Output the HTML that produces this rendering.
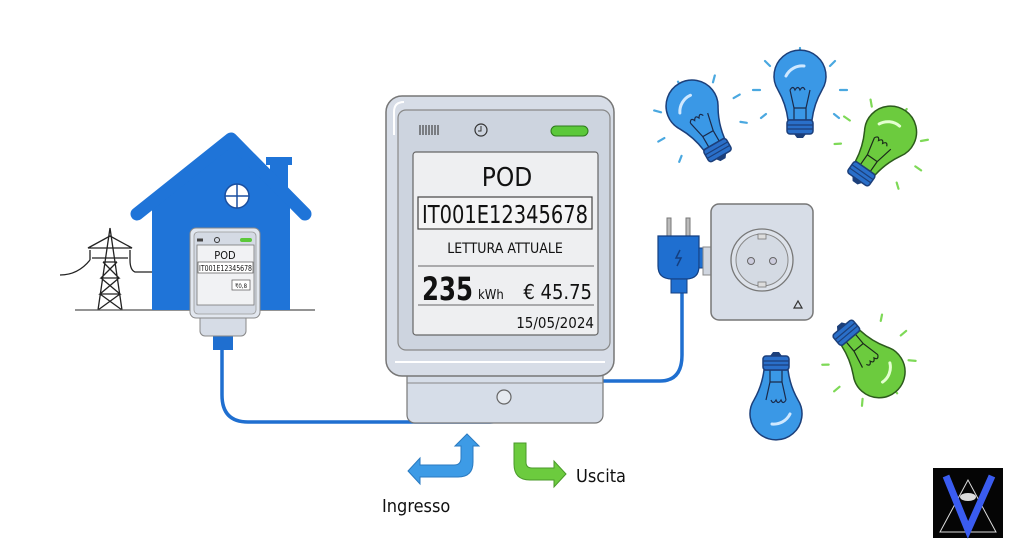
<!DOCTYPE html>
<html><head><meta charset="utf-8"><style>
html,body{margin:0;padding:0;background:#fff;}
svg{display:block;}
text{font-family:"DejaVu Sans Condensed","Liberation Sans",sans-serif;fill:#111;}
</style></head><body>
<svg width="1024" height="559" viewBox="0 0 1024 559" xmlns="http://www.w3.org/2000/svg">
<defs>
<g id="bulbB">
  <path d="M-22,-8 A26,26 0 1 1 22,-8 Q14,6 12,22 L-12,22 Q-14,6 -22,-8 Z" fill="#3a98e6" stroke="#1c3f7a" stroke-width="1.5"/>
  <path d="M-14,-22 A18,18 0 0 1 4,-32" fill="none" stroke="#cfe8ff" stroke-width="3" stroke-linecap="round"/>
  <path d="M-10,-8 q3,-5 5,0 q3,-5 5,0 q3,-5 5,0 M-10,-8 L-6,10 L6,10 L10,-8 M-6,10 L-6,22 M6,10 L6,22" fill="none" stroke="#1a2a4a" stroke-width="1.2"/>
  <rect x="-13" y="22" width="26" height="14" rx="3" fill="#2a6fc9" stroke="#1c3f7a" stroke-width="1.5"/>
  <path d="M-13,27 H13 M-13,31 H13" stroke="#1c3f7a" stroke-width="1.2"/>
  <path d="M-6,36 H6 L3,40 H-3 Z" fill="#1c3f7a"/>
</g>
<g id="bulbG">
  <path d="M-22,-8 A26,26 0 1 1 22,-8 Q14,6 12,22 L-12,22 Q-14,6 -22,-8 Z" fill="#6ccb3e" stroke="#2c5a1c" stroke-width="1.5"/>
  <path d="M-14,-22 A18,18 0 0 1 4,-32" fill="none" stroke="#e4ffd0" stroke-width="3" stroke-linecap="round"/>
  <path d="M-10,-8 q3,-5 5,0 q3,-5 5,0 q3,-5 5,0 M-10,-8 L-6,10 L6,10 L10,-8 M-6,10 L-6,22 M6,10 L6,22" fill="none" stroke="#1a2a1a" stroke-width="1.2"/>
  <rect x="-13" y="22" width="26" height="14" rx="3" fill="#2a6fc9" stroke="#1c3f7a" stroke-width="1.5"/>
  <path d="M-13,27 H13 M-13,31 H13" stroke="#1c3f7a" stroke-width="1.2"/>
  <path d="M-6,36 H6 L3,40 H-3 Z" fill="#1c3f7a"/>
</g>
<g id="raysB" stroke="#4aa8e0" stroke-width="2.2" stroke-linecap="round">
  <path d="M0,-44 V-50 M30,-32 L35,-37 M-30,-32 L-35,-37 M40,-8 H47 M-40,-8 H-47 M34,16 L39,20 M-34,16 L-39,20"/>
</g>
<g id="raysG" stroke="#7ed957" stroke-width="2.2" stroke-linecap="round">
  <path d="M0,-44 V-50 M30,-32 L35,-37 M-30,-32 L-35,-37 M40,-8 H47 M-40,-8 H-47 M34,16 L39,20 M-34,16 L-39,20"/>
</g>
</defs>

<!-- power tower -->
<g stroke="#222" stroke-width="1.3" fill="none">
  <path d="M110,228 L98,310 M110,228 L122,310 M103,262 L117,262 M101,278 L119,278 M100,294 L120,294 M103,262 L119,278 L101,278 L117,262 M101,278 L120,294 L100,294 L119,278 M100,294 L122,310 M120,294 L98,310"/>
  <path d="M88,248 L132,248 L110,236 Z M92,258 L128,258"/>
  <path d="M90,250 v10 M130,250 v10"/>
  <path d="M60,275 q18,0 30,-15 M130,260 q0,10 5,12 L152,272"/>
</g>
<line x1="75" y1="310" x2="315" y2="310" stroke="#555" stroke-width="1.2"/>

<!-- house -->
<rect x="266" y="157" width="26" height="8" fill="#1f74d8"/>
<rect x="270" y="162" width="18" height="30" fill="#1f74d8"/>
<path d="M152,205 L231,142 L290,190 V310 H152 Z" fill="#1f74d8"/>
<path d="M137,214 L231,139 L305,214" fill="none" stroke="#1f74d8" stroke-width="13" stroke-linecap="round" stroke-linejoin="round"/>
<circle cx="237" cy="196" r="12" fill="#fff" stroke="#1a4fa0" stroke-width="1.5"/>
<path d="M225,196 H249 M237,184 V208" stroke="#1a4fa0" stroke-width="1.5"/>

<!-- cable house to main -->
<path d="M222,345 V395 Q222,422 248,422 H490 Q504,422 504,405" fill="none" stroke="#1f6fd0" stroke-width="3.5"/>
<rect x="213" y="334" width="20" height="16" fill="#1f6fd0"/>

<!-- small meter -->
<rect x="200" y="312" width="46" height="24" rx="5" fill="#d6dce6" stroke="#888" stroke-width="1"/>
<rect x="190" y="228" width="70" height="90" rx="6" fill="#e2e7ef" stroke="#888" stroke-width="1"/>
<rect x="194" y="232" width="62" height="82" rx="4" fill="#d4dae4" stroke="#999" stroke-width="0.8"/>
<path d="M197,240 h6" stroke="#444" stroke-width="3"/>
<circle cx="217" cy="240" r="2.5" fill="none" stroke="#333" stroke-width="1"/>
<rect x="240" y="238" width="12" height="4" rx="2" fill="#5bc83a"/>
<rect x="197" y="245" width="57" height="60" fill="#f1f2f4" stroke="#777" stroke-width="0.8"/>
<text x="225" y="259" font-size="11" text-anchor="middle">POD</text>
<rect x="198" y="262" width="55" height="11" fill="#fff" stroke="#555" stroke-width="0.7"/>
<text x="225.5" y="271" font-size="8" text-anchor="middle" textLength="53" lengthAdjust="spacingAndGlyphs">IT001E12345678</text>
<rect x="232" y="280" width="18" height="10" fill="#fff" stroke="#555" stroke-width="0.7"/>
<text x="241" y="288" font-size="6" text-anchor="middle">₹0,8</text>

<!-- cable main to plug -->
<path d="M600,381 H660 Q682,381 682,355 V290" fill="none" stroke="#1f6fd0" stroke-width="3.5"/>

<!-- main meter -->
<rect x="407" y="365" width="196" height="58" rx="8" fill="#d6dde8" stroke="#777" stroke-width="1.2"/>
<line x1="407" y1="383" x2="603" y2="383" stroke="#888" stroke-width="1"/>
<rect x="386" y="96" width="228" height="280" rx="16" fill="#d7dde7" stroke="#777" stroke-width="1.5"/>
<rect x="398" y="110" width="212" height="240" rx="8" fill="#cdd4df" stroke="#888" stroke-width="1.2"/>
<path d="M394,135 V112 Q394,102 404,102" stroke="#fff" stroke-width="2" fill="none"/>
<line x1="395" y1="362" x2="605" y2="362" stroke="#fff" stroke-width="2"/>
<circle cx="504" cy="397" r="7" fill="#e6eaf0" stroke="#666" stroke-width="1.2"/>
<path d="M420,125 v10 M423,125 v10 M426,125 v10 M429,125 v10 M432,125 v10 M435,125 v10 M438,125 v10" stroke="#444" stroke-width="1.2"/>
<circle cx="481" cy="130" r="6" fill="none" stroke="#333" stroke-width="1.2"/>
<path d="M481,126 V131 H478" stroke="#333" stroke-width="1" fill="none"/>
<rect x="551" y="126" width="37" height="10" rx="5" fill="#5bc83a" stroke="#2d7a1c" stroke-width="1"/>
<rect x="413" y="152" width="185" height="183" rx="3" fill="#eeeff1" stroke="#666" stroke-width="1.2"/>
<text x="507" y="186" font-size="26" text-anchor="middle">POD</text>
<rect x="418" y="197" width="174" height="32" fill="#f4f4f5" stroke="#444" stroke-width="1.2"/>
<text x="505" y="223" font-size="25" text-anchor="middle" textLength="166" lengthAdjust="spacingAndGlyphs">IT001E12345678</text>
<text x="505" y="253" font-size="14" text-anchor="middle">LETTURA ATTUALE</text>
<line x1="418" y1="266" x2="594" y2="266" stroke="#666" stroke-width="1"/>
<text x="422" y="300" font-size="32" font-weight="bold" textLength="51" lengthAdjust="spacingAndGlyphs">235</text>
<text x="478" y="299" font-size="13">kWh</text>
<text x="592" y="299" font-size="20" text-anchor="end">€ 45.75</text>
<line x1="418" y1="305" x2="594" y2="305" stroke="#666" stroke-width="1"/>
<text x="594" y="328" font-size="15" text-anchor="end">15/05/2024</text>

<!-- plug -->
<rect x="667" y="218" width="4" height="18" fill="#bbb" stroke="#777"/>
<rect x="686" y="218" width="4" height="18" fill="#bbb" stroke="#777"/>
<path d="M658,236 H699 V266 Q699,279 686,279 H672 Q658,279 658,266 Z" fill="#1f6fd0" stroke="#143f80" stroke-width="1.2"/>
<rect x="699" y="248" width="10" height="20" fill="#1f6fd0" stroke="#143f80"/>
<rect x="671" y="279" width="16" height="14" fill="#1f6fd0" stroke="#143f80"/>
<path d="M680,250 l-4,8 h5 l-4,8" stroke="#143f80" stroke-width="1.5" fill="none"/>

<!-- socket -->
<rect x="703" y="247" width="10" height="28" fill="#d0d6e0" stroke="#888"/>
<rect x="711" y="204" width="102" height="116" rx="8" fill="#d7dde7" stroke="#777" stroke-width="1.5"/>
<circle cx="762" cy="260" r="31" fill="#dde2ea" stroke="#777" stroke-width="1.3"/>
<circle cx="762" cy="260" r="26" fill="#d4dae3" stroke="#888" stroke-width="1"/>
<circle cx="751" cy="261" r="3.5" fill="#ccd" stroke="#666"/>
<circle cx="773" cy="261" r="3.5" fill="#ccd" stroke="#666"/>
<rect x="758" y="234" width="8" height="5" fill="#ddd" stroke="#777" stroke-width="0.8"/>
<rect x="758" y="282" width="8" height="5" fill="#ddd" stroke="#777" stroke-width="0.8"/>
<path d="M794,308 l4,-7 l4,7 Z" fill="none" stroke="#333" stroke-width="1.2"/>

<!-- bulbs -->
<g transform="translate(703,125) rotate(-30)"><use href="#raysB"/><use href="#bulbB"/></g>
<g transform="translate(800,98)"><use href="#raysB"/><use href="#bulbB"/></g>
<g transform="translate(878,150) rotate(35)"><use href="#raysG"/><use href="#bulbG"/></g>
<g transform="translate(865,355) rotate(140)"><use href="#raysG"/><use href="#bulbG"/></g>
<g transform="translate(776,392) rotate(180)"><use href="#bulbB"/></g>

<!-- arrows -->
<path d="M420,465 H454 Q461,465 461,458 V446 H455 L467,434 L479,446 H473 V462 Q473,477 458,477 H420 V484 L408,471 L420,458 Z" fill="#3d9be6" stroke="#2a7ac0" stroke-width="1"/>
<path d="M514,443 H526 V462 Q526,468 532,468 H554 V461 L566,474 L554,487 V480 H530 Q514,480 514,464 Z" fill="#6ccb3e" stroke="#4a9a2a" stroke-width="1"/>
<text x="382" y="512" font-size="18">Ingresso</text>
<text x="576" y="482" font-size="18">Uscita</text>

<!-- logo -->
<rect x="933" y="468" width="70" height="70" fill="#050505"/>
<path d="M968,480 L940,532 H996 Z" fill="none" stroke="#ddd" stroke-width="1"/>
<path d="M946,476 L968,530 L992,476" fill="none" stroke="#3a5cf0" stroke-width="7"/>
<ellipse cx="968" cy="497" rx="8" ry="4" fill="#ddd"/>
</svg>
</body></html>
